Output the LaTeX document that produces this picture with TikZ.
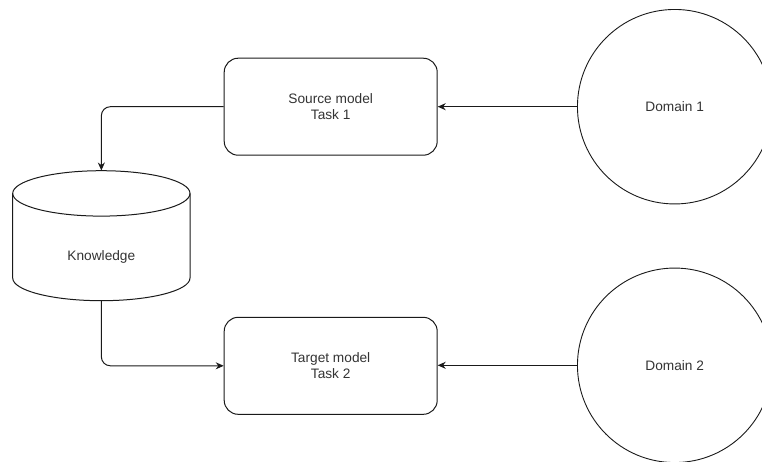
\documentclass[tikz,border=0pt]{standalone}
\usepackage{fontspec}
\setmainfont{Liberation Sans}
\usetikzlibrary{arrows.meta,calc}
\definecolor{lc}{HTML}{1A1A1A}
\definecolor{tc}{HTML}{333333}
\begin{document}
\begin{tikzpicture}[x=1pt,y=-1pt,
  every node/.style={text=tc, font=\fontsize{13.7}{16}\selectfont},
  box/.style={draw=lc, line width=1pt, rounded corners=14pt,
    minimum width=213pt, minimum height=97pt, align=center, inner sep=0pt},
  dom/.style={draw=lc, line width=0.9pt, circle, minimum size=194.5pt, inner sep=0pt},
  link/.style={draw=lc, line width=1pt, rounded corners=9pt,
    -{Stealth[length=8pt,width=7pt]}},
  cyl/.style={draw=lc, line width=1pt}
]
\clip (0,0) rectangle (762,461);

% model boxes
\node[box] (src) at (330.7,106.7) {Source model\\Task 1};
\node[box] (tgt) at (330.7,365.8) {Target model\\Task 2};

% data domains (partly cut off at the right edge)
\node[dom] (dom1) at (674.7,106.7) {Domain 1};
\node[dom] (dom2) at (674.7,365.3) {Domain 2};

% knowledge store: a cylinder drawn around a plain node
\node[minimum width=177.3pt, minimum height=130pt, inner sep=0pt] (kb) at (101.35,235.7) {};
\node (kblabel) at (101.35,257) {Knowledge};
\draw[cyl] (101.35,193.4) ellipse [x radius=88.65pt, y radius=22.7pt];
\draw[cyl] (12.7,193.4) -- (12.7,278)
  arc[start angle=180, end angle=360, x radius=88.65pt, y radius=22.7pt]
  -- (190,193.4);

% connectors
\draw[link] (dom1.west) -- (src.east);
\draw[link] (dom2.west) -- (dom2.west -| tgt.east);
\draw[link] (src.west) -| (kb.north);
\draw[link] (kb.south) |- (tgt.west);
\end{tikzpicture}
\end{document}
